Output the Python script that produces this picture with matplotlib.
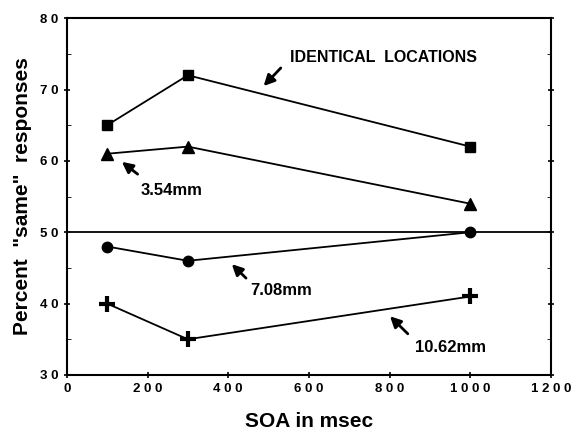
import matplotlib
matplotlib.use("Agg")
import matplotlib.pyplot as plt
from matplotlib.ticker import MultipleLocator

soa = [100, 300, 1000]
identical = [65, 72, 62]
mm354 = [61, 62, 54]
mm708 = [48, 46, 50]
mm1062 = [40, 35, 41]

xticks = [0, 200, 400, 600, 800, 1000, 1200]
xticklabels = ["0", "2 0 0", "4 0 0", "6 0 0", "8 0 0", "1 0 0 0", "1 2 0 0"]
yticks = [30, 40, 50, 60, 70, 80]
yticklabels = ["3 0", "4 0", "5 0", "6 0", "7 0", "8 0"]

plt.rcParams['font.family'] = ['Liberation Sans', 'DejaVu Sans']
plt.rcParams['font.weight'] = 'bold'

fig = plt.figure(figsize=(5.71, 4.32), dpi=100)
ax = fig.add_axes([0.117, 0.132, 0.848, 0.826])

ax.plot(soa, identical, color='black', lw=1.3, marker='s', ms=7)
ax.plot(soa, mm354, color='black', lw=1.3, marker='^', ms=8.5)
ax.plot(soa, mm708, color='black', lw=1.3, marker='o', ms=7.5)
ax.plot(soa, mm1062, color='black', lw=1.3, marker='+', ms=11, mew=3)
ax.axhline(50, color='black', lw=1.3)

ax.set_xlim(0, 1200)
ax.set_ylim(30, 80)
ax.set_xticks(xticks)
ax.set_xticklabels(xticklabels)
ax.set_yticks(yticks)
ax.set_yticklabels(yticklabels)
ax.yaxis.set_minor_locator(MultipleLocator(5))
ax.tick_params(axis='both', which='major', labelsize=9.5, direction='inout', length=5, width=1.2)
ax.tick_params(axis='y', which='minor', direction='in', length=3)
ax.tick_params(right=True, which='both')
for lab in ax.get_xticklabels() + ax.get_yticklabels():
    lab.set_fontweight('bold')
for s in ax.spines.values():
    s.set_linewidth(1.5)

ax.set_xlabel('SOA in msec', fontsize=15, fontweight='bold', labelpad=12)
ax.set_ylabel('Percent  "same"  responses', fontsize=15, fontweight='bold', labelpad=6)

ap = dict(arrowstyle='-|>', color='black', lw=2, mutation_scale=16)
ax.annotate('', xy=(483, 70.2), xytext=(535, 73.3), arrowprops=ap)
ax.text(553, 74.5, 'IDENTICAL  LOCATIONS', fontsize=11.5, fontweight='bold', va='center', ha='left')
ax.annotate('', xy=(131, 60.1), xytext=(181, 57.9), arrowprops=ap)
ax.text(183, 55.9, '3.54mm', fontsize=12, fontweight='bold', va='center', ha='left')
ax.annotate('', xy=(404, 45.8), xytext=(449, 43.3), arrowprops=ap)
ax.text(454, 41.8, '7.08mm', fontsize=12, fontweight='bold', va='center', ha='left')
ax.annotate('', xy=(796, 38.5), xytext=(850, 35.5), arrowprops=ap)
ax.text(863, 33.8, '10.62mm', fontsize=12, fontweight='bold', va='center', ha='left')

fig.savefig('out.png', dpi=100)
